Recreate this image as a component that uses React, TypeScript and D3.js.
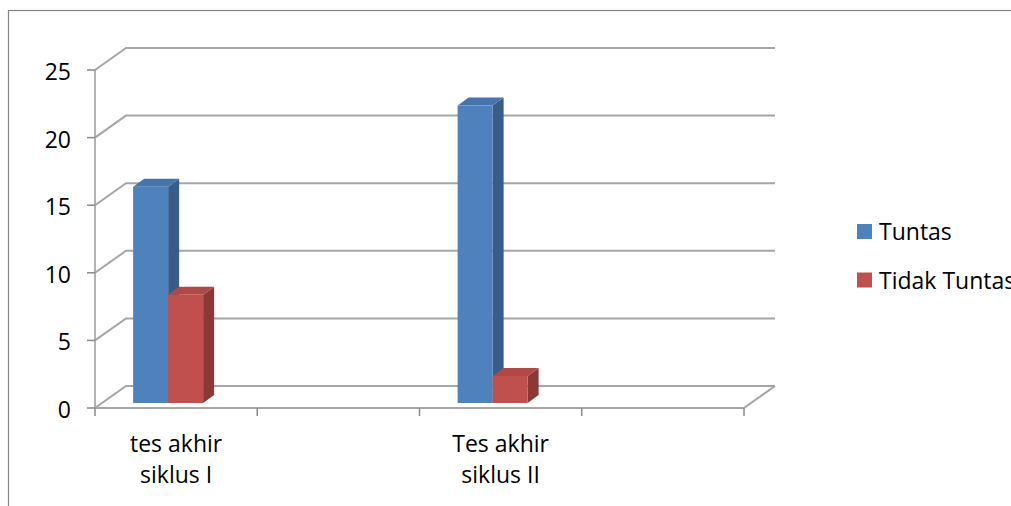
import React from "react";
import * as d3 from "d3";

// Chart data
const categories = ["tes akhir siklus I", "", "Tes akhir siklus II", ""];
const seriesNames = ["Tuntas", "Tidak Tuntas"];
const tuntas: (number | null)[] = [16, null, 22, null];
const tidakTuntas: (number | null)[] = [8, null, 2, null];
const yTicks = [0, 5, 10, 15, 20, 25];

const W = 1011;
const H = 506;
const FONT = "'Open Sans', 'Liberation Sans', sans-serif";

// Plot geometry (front plane + depth offset to the back wall)
const left = 95;
const right = 744;
const bottom = 408;
const top = 70;
const depthX = 31;
const depthY = -22;

// bar placement inside the 3D box
const barShiftX = -8;
const barShiftY = -5;
const barHalfGroup = 35;
const barDepthX = 11;
const barDepthY = -8;

const palette = [
  { front: "#4F81BD", side: "#385D8A", top: "#4675AE" },
  { front: "#C0504D", side: "#8C3836", top: "#B04845" },
];

export default function App() {
  const x = d3.scaleBand<string>().domain(categories.map((_, i) => String(i))).range([left, right]).padding(0);
  const y = d3.scaleLinear().domain([0, 25]).range([bottom, top]);
  const inner = d3
    .scaleBand<string>()
    .domain(seriesNames)
    .range([x.bandwidth() / 2 - barHalfGroup, x.bandwidth() / 2 + barHalfGroup])
    .padding(0);

  const values = [tuntas, tidakTuntas];
  const grid = "#A6A6A6";

  const bars: React.ReactNode[] = [];
  categories.forEach((_, ci) => {
    seriesNames.forEach((name, si) => {
      const v = values[si][ci];
      if (v == null) return;
      const x0 = (x(String(ci)) as number) + (inner(name) as number) + barShiftX;
      const x1 = x0 + inner.bandwidth();
      const yb = y(0) + barShiftY;
      const yt = y(v) + barShiftY;
      const c = palette[si];
      const pts = (arr: [number, number][]) => arr.map((p) => p.join(",")).join(" ");
      bars.push(
        <g key={`${ci}-${si}`}>
          <polygon
            points={pts([
              [x1, yt],
              [x1 + barDepthX, yt + barDepthY],
              [x1 + barDepthX, yb + barDepthY],
              [x1, yb],
            ])}
            fill={c.side}
          />
          <polygon
            points={pts([
              [x0, yt],
              [x0 + barDepthX, yt + barDepthY],
              [x1 + barDepthX, yt + barDepthY],
              [x1, yt],
            ])}
            fill={c.top}
          />
          <rect x={x0} y={yt} width={x1 - x0} height={yb - yt} fill={c.front} />
        </g>
      );
    });
  });

  const catTicks = d3.range(categories.length + 1).map((i) => left + i * x.bandwidth());

  return (
    <svg
      width={W}
      height={H}
      style={{ position: "absolute", left: 0, top: 0, background: "#fff" }}
      fontFamily={FONT}
    >
      <rect x={0} y={0} width={W} height={H} fill="#fff" />
      {/* chart area border */}
      <rect x={8.5} y={10.5} width={1200} height={700} fill="none" stroke="#868686" strokeWidth={1.2} />

      {/* back wall gridlines with side-wall diagonals */}
      {yTicks.map((t) => (
        <polyline
          key={t}
          points={`${left},${y(t)} ${left + depthX},${y(t) + depthY} ${right + depthX},${y(t) + depthY}`}
          fill="none"
          stroke={grid}
          strokeWidth={2}
        />
      ))}
      {/* floor */}
      <polyline
        points={`${right},${bottom} ${right + depthX},${bottom + depthY}`}
        fill="none"
        stroke={grid}
        strokeWidth={2}
      />
      <line x1={left} y1={bottom} x2={right} y2={bottom} stroke={grid} strokeWidth={2} />

      {/* value axis */}
      <line x1={left} y1={top} x2={left} y2={bottom} stroke="#9A9A9A" strokeWidth={1.5} />
      {yTicks.map((t) => (
        <g key={`yt${t}`}>
          <line x1={left - 8} y1={y(t)} x2={left} y2={y(t)} stroke="#8A8A8A" strokeWidth={1.5} />
          <text x={71} y={y(t) + 10} textAnchor="end" fontSize={23} fill="#000">
            {t}
          </text>
        </g>
      ))}

      {/* category axis ticks */}
      {catTicks.map((cx, i) => (
        <line key={`ct${i}`} x1={cx} y1={bottom} x2={cx} y2={bottom + 8} stroke="#8A8A8A" strokeWidth={1.5} />
      ))}

      {bars}

      {/* category labels */}
      {categories.map((c, i) => {
        if (!c) return null;
        const idx = c.indexOf(" siklus");
        const lines = [c.slice(0, idx), c.slice(idx + 1)];
        const cx = (x(String(i)) as number) + x.bandwidth() / 2;
        return (
          <text key={`cl${i}`} x={cx} textAnchor="middle" fontSize={23} fill="#000">
            {lines.map((l, li) => (
              <tspan key={li} x={cx} y={452 + li * 31}>
                {l}
              </tspan>
            ))}
          </text>
        );
      })}

      {/* legend */}
      {seriesNames.map((s, i) => (
        <g key={`lg${i}`} transform={`translate(857, ${224 + i * 48.5})`}>
          <rect x={0} y={0} width={15} height={15} fill={palette[i].front} />
          <text x={22} y={16} fontSize={23} fill="#000">
            {s}
          </text>
        </g>
      ))}
    </svg>
  );
}
